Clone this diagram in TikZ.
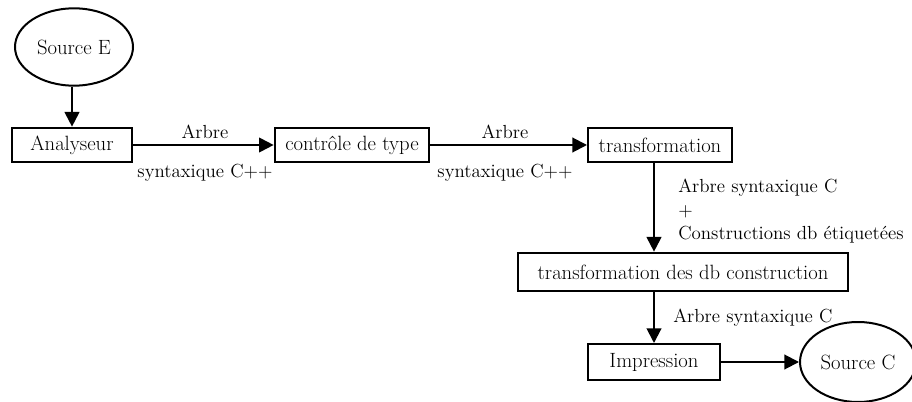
\documentclass[tikz,border=0pt]{standalone}
\usepackage{fontspec}
\usetikzlibrary{arrows.meta,shapes.geometric}
\begin{document}
\begin{tikzpicture}[x=0.75pt,y=-0.75pt,
  txt/.style={font=\fontsize{15.5}{18}\selectfont},
  box/.style={txt, draw, line width=1.5pt, rectangle, inner sep=0pt},
  oval/.style={txt, draw, line width=1.5pt, ellipse, inner sep=0pt},
  flow/.style={line width=1.5pt, -{Triangle[length=11pt,width=11pt]}},
  lbl/.style={font=\fontsize{14.2}{16}\selectfont, inner sep=0pt}]
\useasboundingbox (0,0) rectangle (912,402);
\clip (0,0) rectangle (912,402);
\node[oval, minimum width=88.5pt, minimum height=58pt] (srcE) at (74,47) {Source E};
\node[box, minimum width=90pt, minimum height=26pt] (ana) at (72,145) {Analyseur};
\node[box, minimum width=116pt, minimum height=26pt] (ctl) at (352,145) {contrôle de type};
\node[box, minimum width=108pt, minimum height=26pt] (trf) at (660,145) {transformation};
\node[box, minimum width=247.5pt, minimum height=29pt] (db) at (683,272) {transformation des db construction};
\node[box, minimum width=99pt, minimum height=27pt] (imp) at (654,362) {Impression};
\node[oval, minimum width=87pt, minimum height=60pt] (srcC) at (858,362) {Source C};

\draw[flow] (srcE.south -| ana.north) -- (ana.north);
\draw[flow] (ana) -- (ctl);
\draw[flow] (ctl) -- (trf);
\draw[flow] (trf.south -| imp.north) -- (db.north -| imp.north);
\draw[flow] (db.south -| imp.north) -- (imp.north);
\draw[flow] (imp) -- (srcC);

\node[lbl] (l1a) at (205,132) {Arbre};
\node[lbl] (l1b) at (205,173) {syntaxique C++};
\node[lbl] (l2a) at (505,132) {Arbre};
\node[lbl] (l2b) at (505,173) {syntaxique C++};
\node[lbl, anchor=west] (l3a) at (678,188) {Arbre syntaxique C};
\node[lbl, anchor=west] (l3b) at (678,212) {+};
\node[lbl, anchor=west] (l3c) at (678,235) {Constructions db étiquetées};
\node[lbl, anchor=west] (l4) at (673,318) {Arbre syntaxique C};
\end{tikzpicture}
\end{document}
